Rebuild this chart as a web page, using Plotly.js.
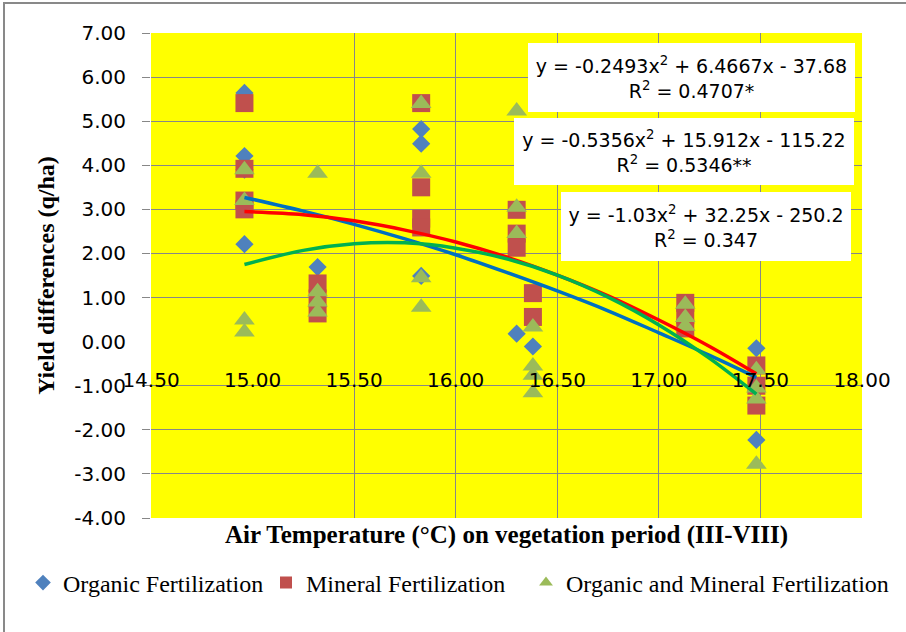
<!DOCTYPE html>
<html>
<head>
<meta charset="utf-8">
<script src="https://cdn.plot.ly/plotly-3.0.1.min.js"></script>
<style>html,body{margin:0;padding:0;background:#fff;}#chart{width:906px;height:632px;}</style>
</head>
<body>
<div id="chart"></div>
<script>
// ---- Data ----
const seriesNames = ["Organic Fertilization", "Mineral Fertilization", "Organic and Mineral Fertilization"];

const organicX = [14.96, 14.96, 14.96, 14.96, 14.96, 15.32, 15.83, 15.83, 15.83, 16.30, 16.38, 17.48, 17.48];
const organicY = [5.64, 4.21, 3.90, 3.10, 2.21, 1.69, 4.82, 4.49, 1.49, 0.18, -0.11, -0.15, -2.23];

const mineralX = [14.96, 14.96, 14.96, 14.96, 15.32, 15.32, 15.32, 15.83, 15.83, 15.83, 15.83, 16.30, 16.30, 16.30, 16.38, 16.38, 17.13, 17.13, 17.13, 17.48, 17.48, 17.48];
const mineralY = [5.41, 3.92, 3.20, 3.00, 1.32, 0.98, 0.64, 5.41, 3.50, 2.79, 2.59, 2.99, 2.45, 2.13, 1.10, 0.56, 0.88, 0.60, 0.30, -0.54, -1.00, -1.45];

const bothX = [14.96, 14.96, 14.96, 14.96, 15.32, 15.32, 15.32, 15.32, 15.83, 15.83, 15.83, 15.83, 16.30, 16.30, 16.30, 16.38, 16.38, 16.38, 16.38, 17.13, 17.13, 17.13, 17.48, 17.48, 17.48, 17.48];
const bothY = [3.90, 3.20, 0.49, 0.22, 3.82, 1.13, 0.90, 0.67, 5.40, 3.82, 1.45, 0.78, 5.23, 3.05, 2.45, 0.33, -0.55, -0.76, -1.16, 0.85, 0.55, 0.35, -0.64, -1.05, -1.30, -2.78];

// Trend curves as seen in the picture (sampled along x)
const trendX = [14.96, 15.25, 15.50, 15.75, 16.00, 16.25, 16.50, 16.75, 17.00, 17.25, 17.48];
const organicTrend = [3.27, 2.96, 2.66, 2.33, 1.97, 1.57, 1.15, 0.70, 0.20, -0.31, -0.81];
const mineralTrend = [2.95, 2.88, 2.74, 2.53, 2.26, 1.92, 1.51, 1.04, 0.49, -0.11, -0.73];
const bothTrend    = [1.75, 2.07, 2.22, 2.24, 2.12, 1.88, 1.51, 1.01, 0.38, -0.38, -1.19];

const equations = [
  "y = -0.2493x<sup>2</sup> + 6.4667x - 37.68<br>R<sup>2</sup> = 0.4707*",
  "y = -0.5356x<sup>2</sup> + 15.912x - 115.22<br>R<sup>2</sup> = 0.5346**",
  "y = -1.03x<sup>2</sup> + 32.25x - 250.2<br>R<sup>2</sup> = 0.347"
];

const xTickVals = [14.5, 15.0, 15.5, 16.0, 16.5, 17.0, 17.5, 18.0];
const xTickText = ["14.50", "15.00", "15.50", "16.00", "16.50", "17.00", "17.50", "18.00"];
const xGridVals = [15.5, 16.0, 16.5, 17.0, 17.5, 18.0];
const yTickVals = [-4, -3, -2, -1, 0, 1, 2, 3, 4, 5, 6, 7];
const yTickText = ["-4.00", "-3.00", "-2.00", "-1.00", "0.00", "1.00", "2.00", "3.00", "4.00", "5.00", "6.00", "7.00"];
const yGridVals = [-4, -3, -2, -1, 1, 2, 3, 4, 5, 6, 7];

// ---- Styling ----
const GRID = '#878787';
const serif = 'Liberation Serif, Times New Roman, serif';
const sans = 'DejaVu Sans, sans-serif';

// plot area pixel geometry helpers (for annotation / legend placement only)
const L = 151, R = 44, T = 33, B = 114, FW = 906, FH = 632;
const PW = FW - L - R, PH = FH - T - B;
const px = v => (v - L) / PW;
const py = v => (FH - B - v) / PH;

const traces = [
  {x: organicX, y: organicY, type: 'scatter', mode: 'markers', name: seriesNames[0], legend: 'legend',
   marker: {symbol: 'diamond', size: 14, color: '#4F81BD'}, hoverinfo: 'x+y'},
  {x: mineralX, y: mineralY, type: 'scatter', mode: 'markers', name: seriesNames[1], legend: 'legend2',
   marker: {symbol: 'square', size: 18, color: '#C0504D'}, hoverinfo: 'x+y'},
  {x: bothX, y: bothY, type: 'scatter', mode: 'markers', name: seriesNames[2], legend: 'legend3',
   marker: {symbol: 'triangle-up', size: 18, color: '#9BBB59'}, hoverinfo: 'x+y'},
  {x: trendX, y: organicTrend, type: 'scatter', mode: 'lines', xaxis: 'x2', yaxis: 'y2', showlegend: false,
   line: {color: '#0070C0', width: 3.5, shape: 'spline'}, hoverinfo: 'skip'},
  {x: trendX, y: mineralTrend, type: 'scatter', mode: 'lines', xaxis: 'x2', yaxis: 'y2', showlegend: false,
   line: {color: '#FF0000', width: 3.5, shape: 'spline'}, hoverinfo: 'skip'},
  {x: trendX, y: bothTrend, type: 'scatter', mode: 'lines', xaxis: 'x2', yaxis: 'y2', showlegend: false,
   line: {color: '#00B050', width: 3.5, shape: 'spline'}, hoverinfo: 'skip'}
];

const legendBase = {orientation: 'h', yanchor: 'middle', xanchor: 'left', y: py(583),
  bgcolor: 'rgba(0,0,0,0)', font: {family: serif, size: 24, color: '#000'}, itemsizing: 'constant'};

const eqBoxes = [
  {x0: 528, x1: 855, y0: 43, y1: 112},
  {x0: 514, x1: 854, y0: 118, y1: 185},
  {x0: 561, x1: 851, y0: 192, y1: 261}
];

const layout = {
  width: FW, height: FH,
  margin: {l: L, r: R, t: T, b: B, pad: 0},
  paper_bgcolor: '#FFFFFF',
  plot_bgcolor: '#FFFF00',
  showlegend: true,
  xaxis: {
    range: [14.5, 18], tickmode: 'array', tickvals: xGridVals, showticklabels: false,
    showgrid: true, gridcolor: GRID, gridwidth: 1, zeroline: false, showline: false, ticks: '',
    title: {text: '<b>Air Temperature (°C) on vegetation period (III-VIII)</b>',
            font: {family: serif, size: 25, color: '#000'}, standoff: 7}
  },
  xaxis2: {
    overlaying: 'x', matches: 'x', anchor: 'free', position: py(366),
    tickmode: 'array', tickvals: xTickVals, ticktext: xTickText, showgrid: false, zeroline: false,
    showline: false, ticks: '', tickfont: {family: sans, size: 20, color: '#000'}
  },
  yaxis: {
    range: [-4, 7], tickmode: 'array', tickvals: yGridVals, showticklabels: false,
    showgrid: true, gridcolor: GRID, gridwidth: 1, zeroline: false, showline: false,
    ticks: 'outside', ticklen: 8, tickcolor: GRID, tickwidth: 1,
    title: {text: '<b>Yield differences (q/ha)</b>', font: {family: serif, size: 24, color: '#000'}, standoff: 80}
  },
  yaxis2: {
    overlaying: 'y', matches: 'y', anchor: 'x2', side: 'left',
    tickmode: 'array', tickvals: yTickVals, ticktext: yTickText, showgrid: false, zeroline: false,
    showline: false, ticks: 'outside', ticklen: 20, tickcolor: 'rgba(0,0,0,0)',
    tickfont: {family: sans, size: 20, color: '#000'}
  },
  legend: Object.assign({}, legendBase, {x: px(23)}),
  legend2: Object.assign({}, legendBase, {x: px(266)}),
  legend3: Object.assign({}, legendBase, {x: px(526)}),
  annotations: eqBoxes.map((b, i) => ({
    xref: 'paper', yref: 'paper', x: px(b.x0), y: py(b.y0), xanchor: 'left', yanchor: 'top',
    width: b.x1 - b.x0, height: b.y1 - b.y0, borderpad: 0, borderwidth: 0,
    bgcolor: '#FFFFFF', showarrow: false, align: 'center', valign: 'middle',
    text: equations[i], font: {family: sans, size: 19, color: '#000'}
  })),
  shapes: [{
    type: 'rect', xref: 'paper', yref: 'paper', x0: px(4), x1: px(920), y0: py(645), y1: py(3),
    line: {color: '#898989', width: 2}, fillcolor: 'rgba(0,0,0,0)', layer: 'above'
  }]
};

Plotly.newPlot('chart', traces, layout, {displayModeBar: false, staticPlot: true});
</script>
</body>
</html>
